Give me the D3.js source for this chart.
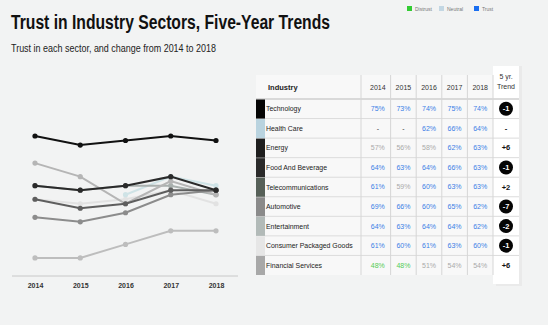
<!DOCTYPE html>
<html>
<head>
<meta charset="utf-8">
<script src="https://cdn.jsdelivr.net/npm/d3@7"></script>
<style>
  body { margin: 0; background: #f2f3f3; }
  svg { display: block; font-family: "Liberation Sans", Arial, sans-serif; }
</style>
</head>
<body>
<div class="main"></div>
<script>
// Données
const years = [2014, 2015, 2016, 2017, 2018];
const industries = ['Technology', 'Health Care', 'Energy', 'Food And Beverage', 'Telecommunications',
  'Automotive', 'Entertainment', 'Consumer Packaged Goods', 'Financial Services'];
const technology = [75, 73, 74, 75, 74];
const healthCare = [null, null, 62, 66, 64];
const energy = [57, 56, 58, 62, 63];
const foodBeverage = [64, 63, 64, 66, 63];
const telecom = [61, 59, 60, 63, 63];
const automotive = [69, 66, 60, 65, 62];
const entertainment = [64, 63, 64, 64, 62];
const consumerGoods = [61, 60, 61, 63, 60];
const financial = [48, 48, 51, 54, 54];
const trends = ['-1', '-', '+6', '-1', '+2', '-7', '-2', '-1', '+6'];
const legendLabels = ['Distrust', 'Neutral', 'Trust'];

const series = [technology, healthCare, energy, foodBeverage, telecom, automotive, entertainment, consumerGoods, financial];

// Couleurs
const rowColors = ['#050505', '#b9d3df', '#1e1e1e', '#2a2a2a', '#566058', '#8a8a8a', '#b2bab8', '#e6e6e6', '#a8a8a8'];
const lineColors = ['#111', '#cfe3e6', '#8c8c8c', '#2a2a2a', '#5e5e5e', '#b5b5b5', '#a9b0ae', '#e2e2e2', '#bdbdbd'];
const legendColors = ['#33cc33', '#c3d7e3', '#1a6ef0'];
const valueColor = v => v < 50 ? '#55cc55' : (v < 60 ? '#aaaaaa' : '#3b7fe6');

const width = 548;
const height = 325;

const svg = d3.select('.main')
  .append('svg')
  .attr('width', width)
  .attr('height', height);

svg.append('rect').attr('width', width).attr('height', height).attr('fill', '#f2f3f3');

// Titres
svg.append('text')
  .attr('x', 11).attr('y', 29)
  .attr('font-size', 20).attr('font-weight', 'bold').attr('fill', '#111')
  .attr('textLength', 319).attr('lengthAdjust', 'spacingAndGlyphs')
  .text('Trust in Industry Sectors, Five-Year Trends');

svg.append('text')
  .attr('x', 11).attr('y', 52)
  .attr('font-size', 11).attr('fill', '#222')
  .attr('textLength', 205).attr('lengthAdjust', 'spacingAndGlyphs')
  .text('Trust in each sector, and change from 2014 to 2018');

// Légende
const legendX = d3.scaleOrdinal().domain(legendLabels).range([407, 439, 474]);
const legend = svg.append('g').selectAll('g').data(legendLabels).enter().append('g')
  .attr('transform', d => `translate(${legendX(d)}, 6)`);
legend.append('rect').attr('width', 5).attr('height', 5).attr('fill', (d, i) => legendColors[i]);
legend.append('text').attr('x', 8).attr('y', 4.8).attr('font-size', 5).attr('fill', '#777').text(d => d);

// Graphique en lignes
const x = d3.scalePoint().domain(years).range([35, 216]);
const y = d3.scaleLinear().domain([44, 75]).range([276, 136]);

svg.append('g')
  .attr('transform', 'translate(0, 276)')
  .call(d3.axisBottom(x).tickSize(0).tickPadding(7))
  .call(g => g.select('.domain').attr('stroke', '#c8c8c8').attr('d', 'M12,0H238'))
  .call(g => g.selectAll('text').attr('font-size', 7).attr('font-weight', 'bold').attr('fill', '#333')
    .attr('font-family', '"Liberation Sans", Arial, sans-serif'));

const line = d3.line()
  .defined(d => d != null)
  .x((d, i) => x(years[i]))
  .y(d => y(d));

const drawOrder = [7, 1, 6, 5, 8, 2, 4, 3, 0];
const lines = svg.append('g').selectAll('g').data(drawOrder).enter().append('g');
lines.append('path')
  .attr('d', k => line(series[k]))
  .attr('fill', 'none')
  .attr('stroke', k => lineColors[k])
  .attr('stroke-width', 2);
lines.selectAll('circle')
  .data(k => series[k].map((v, i) => ({ v, i, k })).filter(d => d.v != null))
  .enter().append('circle')
  .attr('cx', d => x(years[d.i]))
  .attr('cy', d => y(d.v))
  .attr('r', 2.6)
  .attr('fill', d => lineColors[d.k]);

// Tableau
const row = d3.scaleBand().domain(industries).range([99, 275]);
const col = d3.scaleBand().domain(years).range([365, 493]);
const trendX = 506;

// colonne de tendance
svg.append('rect').attr('x', 496).attr('y', 66).attr('width', 26).attr('height', 220).attr('fill', '#e4e4e4').attr('opacity', 0.6);
svg.append('rect').attr('x', 493).attr('y', 66).attr('width', 26).attr('height', 218).attr('fill', '#fff');

svg.append('rect').attr('x', 256).attr('y', 75).attr('width', 237).attr('height', 200).attr('fill', '#f8f8f8');

// en-têtes
svg.append('text').attr('x', 268).attr('y', 90).attr('font-size', 7.5).attr('font-weight', 'bold').attr('fill', '#222').text('Industry');
svg.append('g').selectAll('text').data(years).enter().append('text')
  .attr('x', d => col(d) + col.bandwidth() / 2).attr('y', 90)
  .attr('text-anchor', 'middle').attr('font-size', 7).attr('fill', '#333').text(d => d);
svg.append('text').attr('x', trendX).attr('y', 79).attr('text-anchor', 'middle').attr('font-size', 7).attr('fill', '#333').text('5 yr.');
svg.append('text').attr('x', trendX).attr('y', 89).attr('text-anchor', 'middle').attr('font-size', 7).attr('fill', '#333').text('Trend');

// lignes horizontales
svg.append('g').selectAll('line').data(industries).enter().append('line')
  .attr('x1', 256).attr('x2', 519)
  .attr('y1', d => row(d)).attr('y2', d => row(d))
  .attr('stroke', (d, i) => i === 0 ? '#cfcfcf' : '#dcdcdc').attr('stroke-width', (d, i) => i === 0 ? 1.5 : 1);

// lignes verticales
svg.append('g').selectAll('line').data([361].concat(years.slice(1).map(d => col(d)), [493])).enter().append('line')
  .attr('x1', d => d).attr('x2', d => d)
  .attr('y1', 75).attr('y2', 275)
  .attr('stroke', '#d6d6d6');

const rows = svg.append('g').selectAll('g').data(industries).enter().append('g')
  .attr('transform', d => `translate(0, ${row(d)})`);

rows.append('rect')
  .attr('x', 256).attr('y', 0.5).attr('width', 9).attr('height', row.bandwidth() - 0.5)
  .attr('fill', (d, i) => rowColors[i]);

rows.append('text')
  .attr('x', 266).attr('y', row.bandwidth() / 2 + 2.6)
  .attr('font-size', 7.5).attr('fill', '#222')
  .text(d => d)
  .each(function () {
    const w = this.getComputedTextLength();
    d3.select(this).attr('textLength', w * 0.92).attr('lengthAdjust', 'spacingAndGlyphs');
  });

rows.selectAll('.val')
  .data((d, i) => series[i].map((v, j) => ({ v, year: years[j] })))
  .enter().append('text')
  .attr('class', 'val')
  .attr('x', d => col(d.year) + col.bandwidth() / 2)
  .attr('y', row.bandwidth() / 2 + 2.5)
  .attr('text-anchor', 'middle').attr('font-size', 7)
  .attr('fill', d => d.v == null ? '#333' : valueColor(d.v))
  .text(d => d.v == null ? '-' : d.v + '%');

rows.filter((d, i) => trends[i].startsWith('-') && trends[i] !== '-')
  .append('circle')
  .attr('cx', trendX).attr('cy', row.bandwidth() / 2)
  .attr('r', 7).attr('fill', '#050505');

rows.append('text')
  .attr('x', trendX).attr('y', row.bandwidth() / 2 + 2.6)
  .attr('text-anchor', 'middle').attr('font-size', 7.5).attr('font-weight', 'bold')
  .attr('fill', (d, i) => trends[i].startsWith('-') && trends[i] !== '-' ? '#fff' : '#111')
  .text((d, i) => trends[i]);
</script>
</body>
</html>
